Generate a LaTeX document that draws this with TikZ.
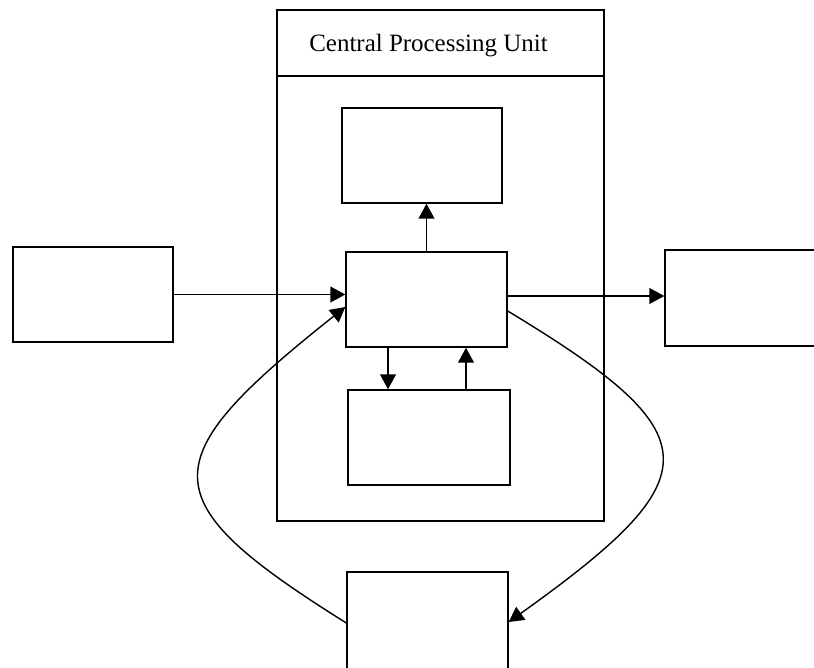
\documentclass[tikz,border=0pt]{standalone}
\usepackage{fontspec}
\setmainfont{Liberation Serif}
\usetikzlibrary{arrows.meta}

\tikzset{
  unit/.style={draw,line width=0.8pt,inner sep=0pt,minimum width=3.2cm,minimum height=1.9cm},
  flow/.style={line width=0.8pt,-{Triangle[length=8.5pt,width=9pt]}}
}

\begin{document}
\begin{tikzpicture}[x=0.02cm,y=-0.02cm]
  \clip (0,0) rectangle (814,668);
  \node[unit,minimum width=6.54cm,minimum height=10.22cm] (cpu) at (440.5,265.5) {};
  \draw[line width=0.8pt] (cpu.west |- 0,76) -- (cpu.east |- 0,76);
  \node[anchor=base,font=\fontsize{14.2}{17}\selectfont] (title) at (428.5,52) {Central Processing Unit};
  \node[unit] (input) at (93,294.5) {};
  \node[unit] (alu) at (422,155.5) {};
  \node[unit,minimum width=3.22cm] (cu) at (426.5,299.5) {};
  \node[unit,minimum width=3.24cm] (reg) at (429,437.5) {};
  \node[unit,minimum height=1.92cm] (output) at (745,298) {};
  \node[unit,minimum width=3.22cm,minimum height=2.2cm] (mem) at (427.5,627) {};
  % straight connectors
  \draw[flow] (input.east) -- (input.east -| cu.west);
  \draw[flow] (cu.north) -- (cu.north |- alu.south);
  \draw[flow] ([yshift=0.07cm]cu.east) -- ([yshift=0.07cm]cu.east -| output.west);
  \draw[flow] ([xshift=-0.77cm]cu.south) -- ([xshift=-0.77cm]cu.south |- reg.north);
  \draw[flow] ([xshift=0.79cm]cu.south |- reg.north) -- ([xshift=0.79cm]cu.south);
  % curved connectors
  \draw[flow] ([yshift=0.08cm]mem.west) .. controls (150,500) and (150,462) .. ([yshift=-0.15cm]cu.west);
  \draw[flow] ([yshift=-0.23cm]cu.east) .. controls (713,435) and (713,476) .. ([yshift=0.1cm]mem.east);
\end{tikzpicture}
\end{document}
